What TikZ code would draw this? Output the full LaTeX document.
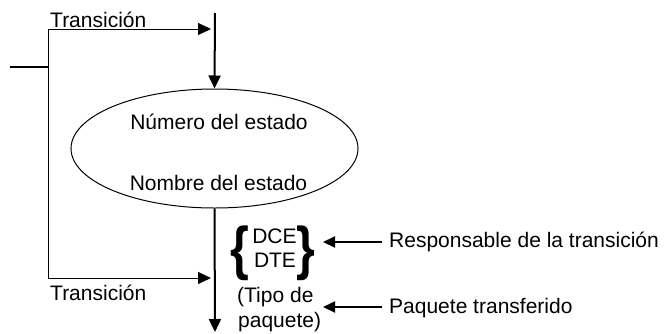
\documentclass[tikz,border=0pt]{standalone}
\usepackage{fontspec}
\setmainfont{Liberation Sans}
\usetikzlibrary{shapes.geometric,arrows.meta}
\begin{document}
\begin{tikzpicture}[x=1pt,y=-1pt,
  every node/.style={font=\fontsize{21}{25}\selectfont, inner sep=0pt},
  lbl/.style={anchor=base west},
  lblc/.style={anchor=base},
  thin line/.style={line width=1pt},
  thick line/.style={line width=2pt},
  tip/.style={-{Triangle[length=13pt,width=12pt]}},
  smalltip/.style={-{Triangle[length=12pt,width=11pt]}},
  brace/.style={inner sep=0pt, font=\fontsize{21}{25}\selectfont\bfseries}]
\useasboundingbox (0,0) rectangle (665,333);
% state ellipse
\node[ellipse, draw, thin line, minimum width=287pt, minimum height=119pt] (st) at (214.5,148.5) {};
\node[lblc] (num) at (219,129) {Número del estado};
\node[lblc] (nom) at (218.5,190) {Nombre del estado};
% coordinates
\coordinate (topin) at (215,13);
\coordinate (stub) at (10,67);
\coordinate (railtop) at (48,29);
\coordinate (railmid) at (48,67);
\coordinate (railbot) at (48,278);
\coordinate (toptip) at (211,29);
\coordinate (bottip) at (211,278);
\coordinate (endout) at (215,332);
% connectors
\draw[thick line, tip] (topin) -- (st.north);
\draw[thick line] (stub) -- (railmid);
\draw[thin line] (railtop) -- (railbot);
\draw[thin line, tip] (railtop) -- (toptip);
\draw[thin line, tip] (railbot) -- (bottip);
\draw[thick line, tip] (st.south) -- (endout);
% labels
\node[lbl] (t1) at (50,27) {Transición};
\node[lbl] (t2) at (50,300) {Transición};
\node[lblc] (dce) at (274.5,243) {DCE};
\node[lblc] (dte) at (275,267) {DTE};
\node[brace] (lb) at (240,253) {\scalebox{2.3}[2.8]{\{}};
\node[brace] (rb) at (306,253) {\scalebox{2.3}[2.8]{\}}};
\node[lbl] (tipo) at (237,302) {(Tipo de};
\node[lbl] (paq) at (238,327) {paquete)};
\node[lbl] (resp) at (389,247) {Responsable de la transición};
\node[lbl] (ptr) at (389,313) {Paquete transferido};
\coordinate (respt) at (382,242);
\coordinate (resph) at (323,242);
\coordinate (ptrt) at (382,307);
\coordinate (ptrh) at (323,307);
\draw[thick line, smalltip] (respt) -- (resph);
\draw[thick line, smalltip] (ptrt) -- (ptrh);
\end{tikzpicture}
\end{document}
